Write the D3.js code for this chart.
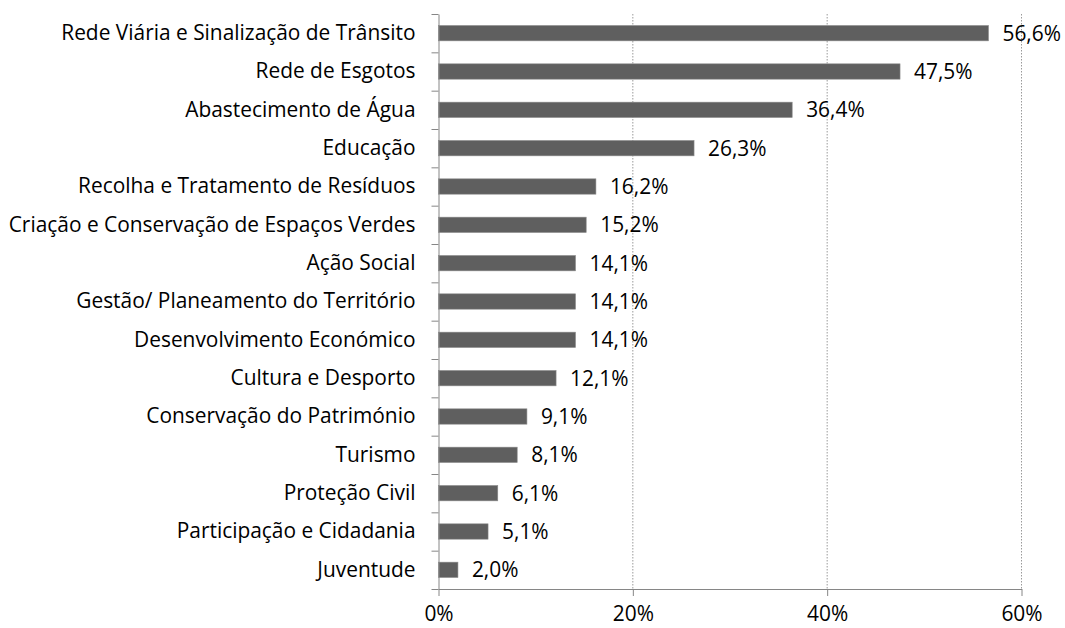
<!DOCTYPE html>
<html>
<head>
<meta charset="utf-8">
<script src="https://cdn.jsdelivr.net/npm/d3@7"></script>
<style>
  body { margin: 0; background: #fff; }
  text { font-family: "Open Sans", sans-serif; fill: #000; }
</style>
</head>
<body>
<div id="chart"></div>
<script>
// data
const categories = [
  "Rede Viária e Sinalização de Trânsito",
  "Rede de Esgotos",
  "Abastecimento de Água",
  "Educação",
  "Recolha e Tratamento de Resíduos",
  "Criação e Conservação de Espaços Verdes",
  "Ação Social",
  "Gestão/ Planeamento do Território",
  "Desenvolvimento Económico",
  "Cultura e Desporto",
  "Conservação do Património",
  "Turismo",
  "Proteção Civil",
  "Participação e Cidadania",
  "Juventude"
];
const values = [56.6, 47.5, 36.4, 26.3, 16.2, 15.2, 14.1, 14.1, 14.1, 12.1, 9.1, 8.1, 6.1, 5.1, 2.0];
const xTicks = [0, 20, 40, 60];

const W = 1065, H = 628;
const margin = {top: 14, right: 43.5, bottom: 39, left: 438.5};
const width = W - margin.left - margin.right,
      height = H - margin.top - margin.bottom;
const fontSize = 20.9;

const svg = d3.select("#chart")
  .append("svg")
  .attr("width", W)
  .attr("height", H)
  .append("g")
  .attr("transform", `translate(${margin.left}, ${margin.top})`);

const x = d3.scaleLinear().domain([0, 60]).range([0, width]);
const y = d3.scaleBand().domain(categories).range([0, height]).paddingInner(0.6).paddingOuter(0.3);
const yIdx = d3.scaleLinear().domain([0, categories.length]).range([0, height]);

const fmt = v => d3.format(".1f")(v).replace(".", ",") + "%";

// gridlines (dotted)
svg.append("g")
  .selectAll("line")
  .data(xTicks.filter(d => d > 0))
  .join("line")
    .attr("x1", d => x(d)).attr("x2", d => x(d))
    .attr("y1", 0).attr("y2", height)
    .attr("stroke", "#9a9a9a")
    .attr("stroke-width", 1)
    .attr("stroke-dasharray", "1.5,1.5");

// bars
svg.append("g")
  .selectAll("rect")
  .data(values)
  .join("rect")
    .attr("x", 0)
    .attr("y", (d, i) => y(categories[i]))
    .attr("width", d => x(d))
    .attr("height", y.bandwidth())
    .attr("fill", "#5f5f5f")
    .attr("stroke", "#8a8a8a")
    .attr("stroke-width", 0.6);

// value labels
svg.append("g")
  .selectAll("text")
  .data(values)
  .join("text")
    .attr("x", d => x(d) + 14)
    .attr("y", (d, i) => y(categories[i]) + y.bandwidth() / 2)
    .attr("dy", "0.36em")
    .attr("font-size", fontSize)
    .text(d => fmt(d));

// x axis
const xAxis = svg.append("g")
  .attr("transform", `translate(0,${height})`)
  .call(d3.axisBottom(x).tickValues(xTicks).tickFormat(d => d + "%").tickSize(7).tickSizeOuter(0).tickPadding(10));
xAxis.select(".domain").attr("stroke", "#868686");
xAxis.selectAll(".tick line").attr("stroke", "#868686");
xAxis.selectAll("text").attr("font-size", fontSize).attr("font-family", "Open Sans, sans-serif").attr("fill", "#000");

// y axis: ticks at category boundaries
const yAxis = svg.append("g")
  .call(d3.axisLeft(yIdx).tickValues(d3.range(categories.length + 1)).tickFormat("").tickSize(7).tickSizeOuter(0));
yAxis.select(".domain").attr("stroke", "#868686");
yAxis.selectAll(".tick line").attr("stroke", "#868686");

// category labels
const yLab = svg.append("g")
  .call(d3.axisLeft(y).tickSize(0).tickPadding(23));
yLab.select(".domain").remove();
yLab.selectAll("text").attr("font-size", fontSize).attr("font-family", "Open Sans, sans-serif").attr("fill", "#000");
</script>
</body>
</html>
